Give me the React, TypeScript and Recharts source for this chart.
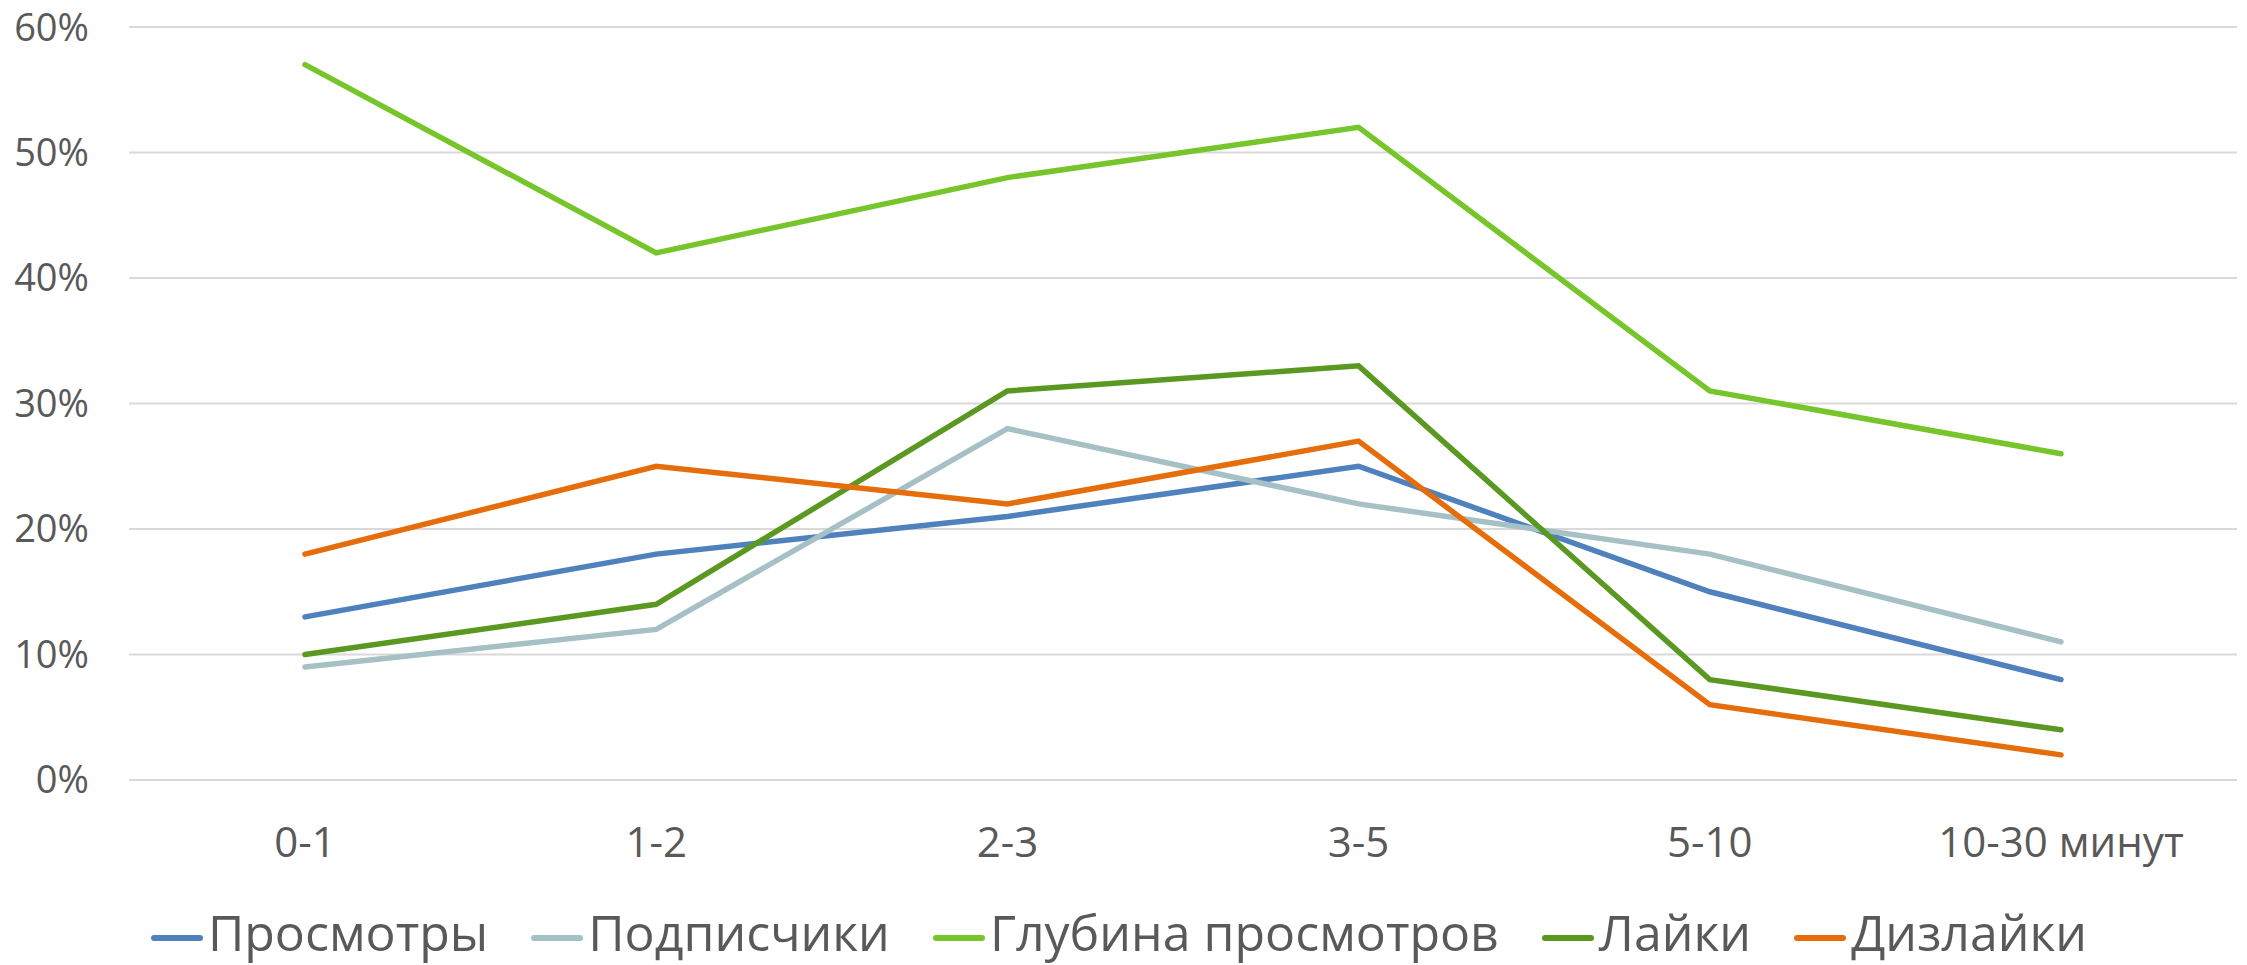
import { LineChart, Line, XAxis, YAxis, CartesianGrid, Legend } from "recharts";

// time on video, minutes
const categories = ["0-1", "1-2", "2-3", "3-5", "5-10", "10-30 минут"];

// share of each metric, %
const views = [13, 18, 21, 25, 15, 8];
const subscribers = [9, 12, 28, 22, 18, 11];
const watchDepth = [57, 42, 48, 52, 31, 26];
const likes = [10, 14, 31, 33, 8, 4];
const dislikes = [18, 25, 22, 27, 6, 2];

const yTicks = [0, 10, 20, 30, 40, 50, 60];

const SERIES = [
  { key: "views", name: "Просмотры", color: "#4f81bd", values: views },
  { key: "subscribers", name: "Подписчики", color: "#a5c1c5", values: subscribers },
  { key: "watchDepth", name: "Глубина просмотров", color: "#76c52b", values: watchDepth },
  { key: "likes", name: "Лайки", color: "#5a9822", values: likes },
  { key: "dislikes", name: "Дизлайки", color: "#e66d0b", values: dislikes },
];

const data = categories.map((name, i) => {
  const row: Record<string, string | number> = { name };
  SERIES.forEach((s) => {
    row[s.key] = s.values[i];
  });
  return row;
});

const FONT = "'Open Sans', 'Noto Sans', sans-serif";
const TEXT = "#595959";

function LegendRow() {
  return (
    <div
      style={{
        height: 70,
        paddingTop: 5,
        boxSizing: "border-box",
        display: "flex",
        justifyContent: "center",
        alignItems: "center",
        fontFamily: FONT,
        fontSize: 50,
        color: TEXT,
      }}
    >
      {SERIES.map((s, i) => (
        <div
          key={s.key}
          style={{ display: "flex", alignItems: "center", marginRight: i < SERIES.length - 1 ? 42 : 0 }}
        >
          <svg width={54} height={12} style={{ marginRight: 4, position: "relative", top: 5 }}>
            <line x1={4} y1={6} x2={50} y2={6} stroke={s.color} strokeWidth={6} strokeLinecap="round" />
          </svg>
          <span style={{ lineHeight: "65px" }}>{s.name}</span>
        </div>
      ))}
    </div>
  );
}

export default function App() {
  return (
    <div style={{ position: "absolute", left: 0, top: 0, background: "#fff" }}>
      <LineChart width={2247} height={965} data={data} margin={{ top: 27, right: 10, left: 0, bottom: 0 }}>
        <CartesianGrid vertical={false} stroke="#d9d9d9" strokeWidth={2} />
        <XAxis
          dataKey="name"
          axisLine={{ stroke: "#d9d9d9", strokeWidth: 2 }}
          tickLine={false}
          tickMargin={41}
          height={115}
          interval={0}
          padding={{ left: 176, right: 176 }}
          tick={{ fill: TEXT, fontSize: 42, fontFamily: FONT }}
        />
        <YAxis
          domain={[0, 60]}
          ticks={yTicks}
          width={129}
          axisLine={false}
          tickLine={false}
          tickMargin={34}
          tickFormatter={(v) => `${v}%`}
          tick={{ fill: TEXT, fontSize: 38, fontFamily: FONT }}
        />
        <Legend verticalAlign="bottom" content={() => <LegendRow />} />
        {SERIES.map((s) => (
          <Line
            key={s.key}
            type="linear"
            dataKey={s.key}
            name={s.name}
            stroke={s.color}
            strokeWidth={5.5}
            strokeLinecap="round"
            dot={false}
            activeDot={false}
            isAnimationActive={false}
          />
        ))}
      </LineChart>
    </div>
  );
}
